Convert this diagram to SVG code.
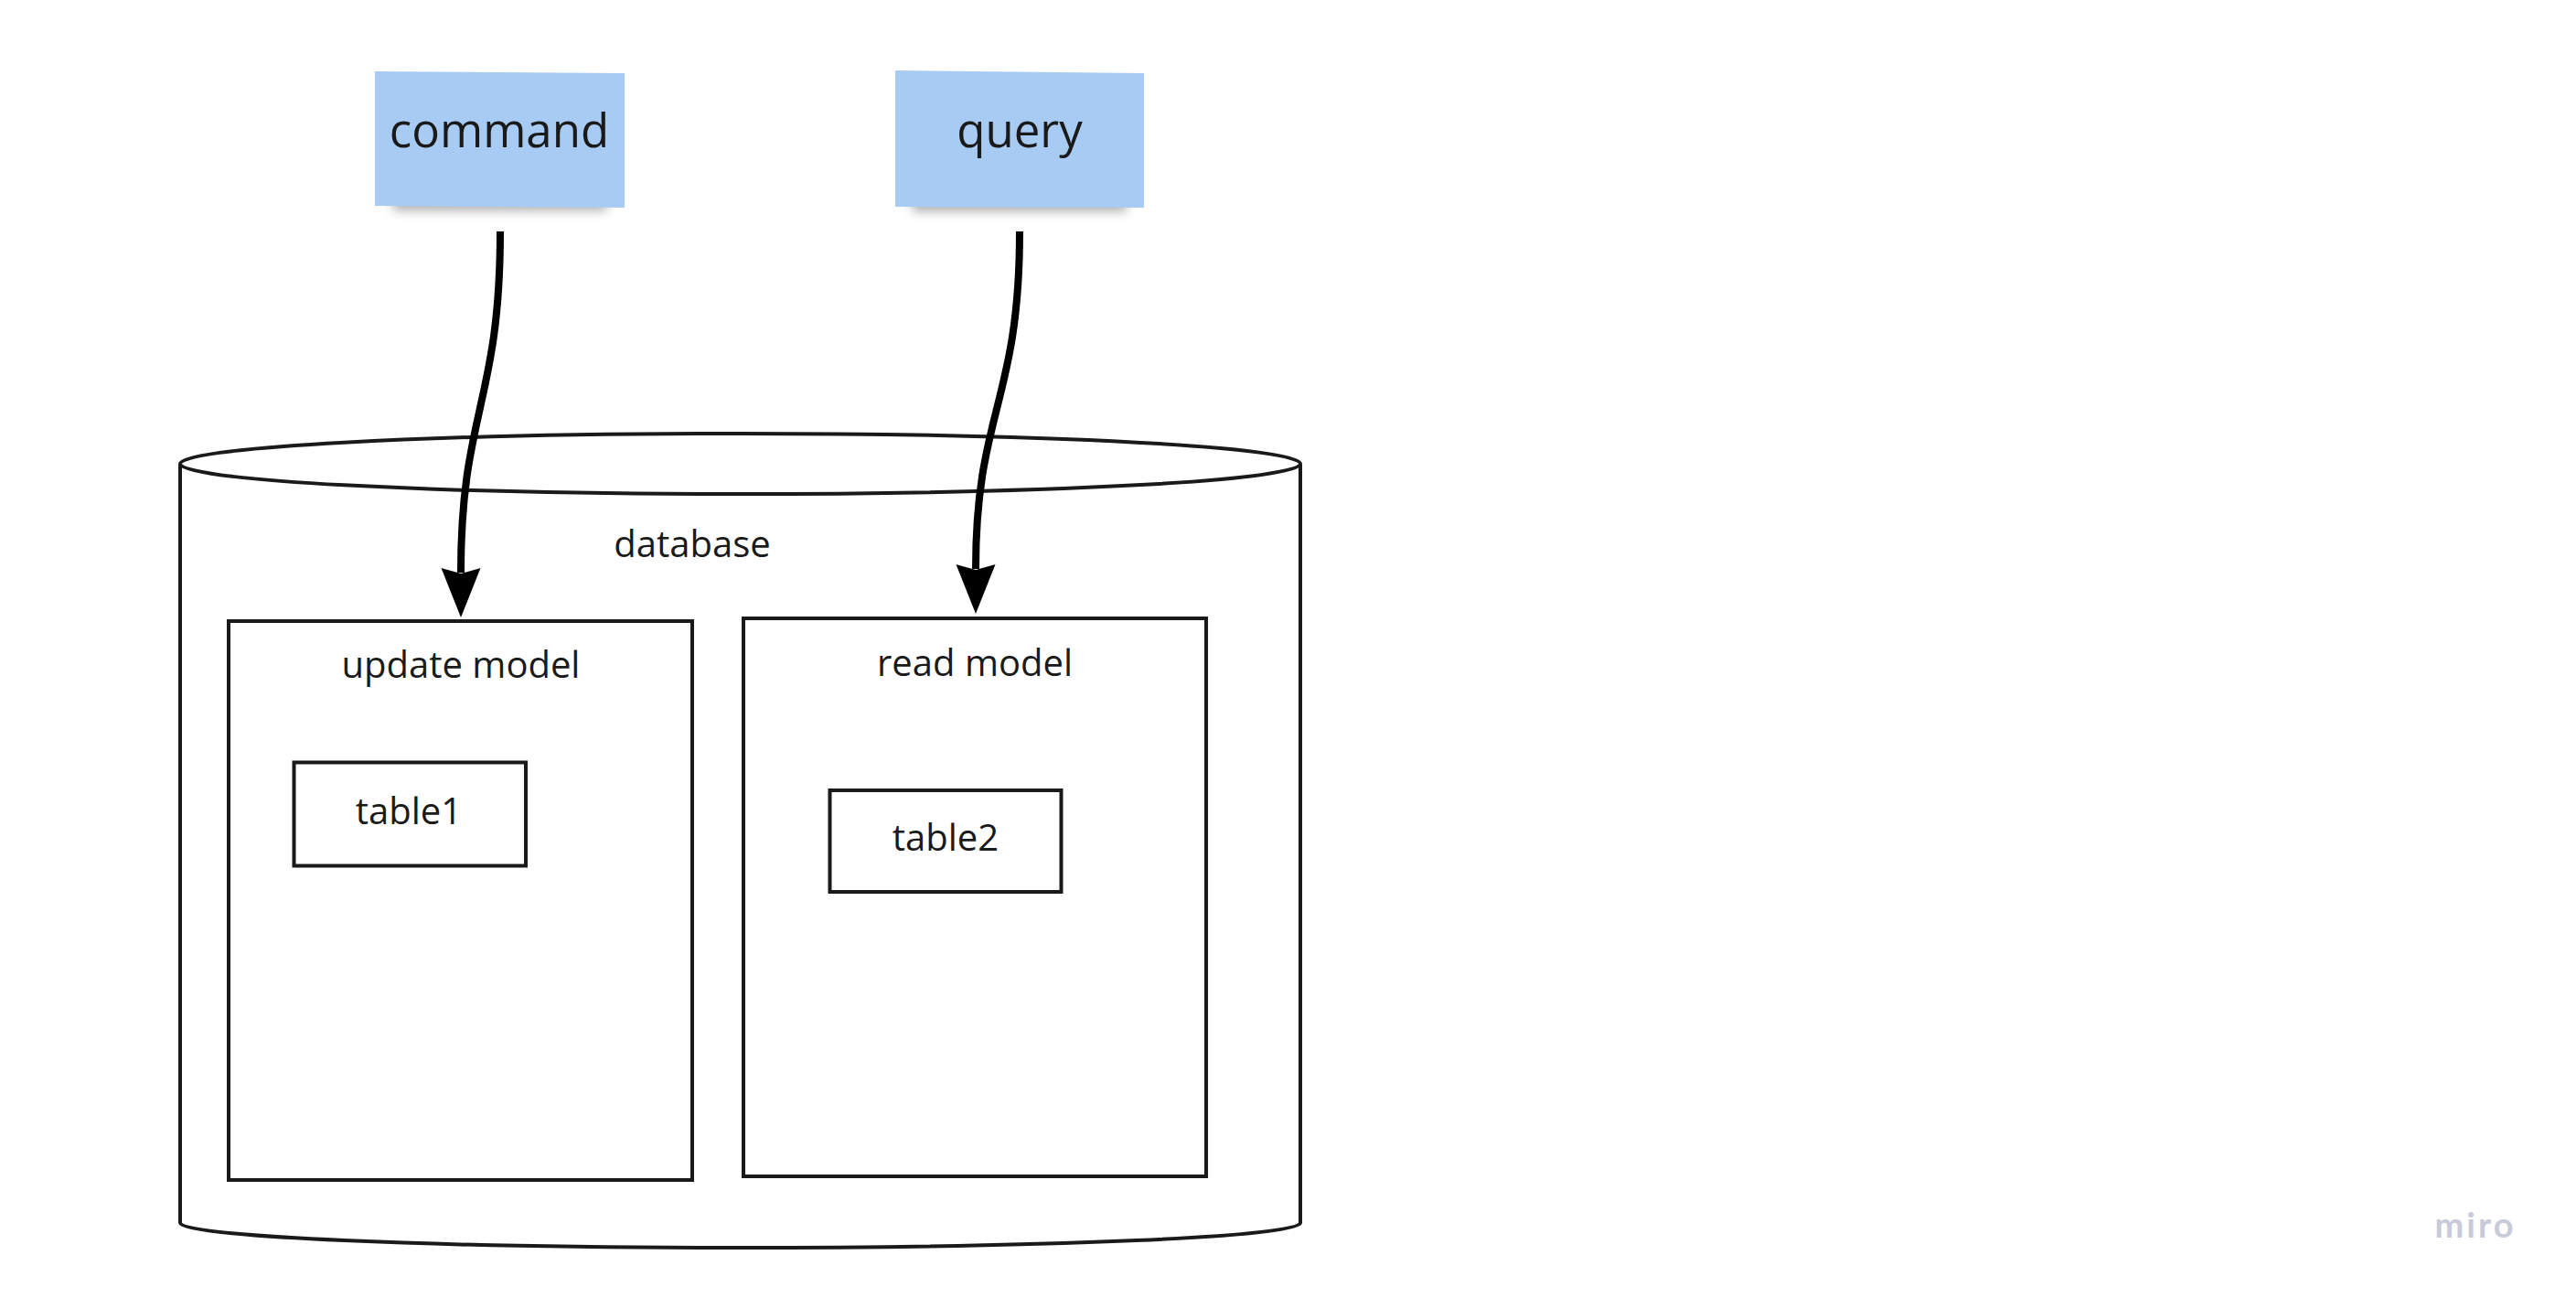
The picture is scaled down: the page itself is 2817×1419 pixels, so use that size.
<svg xmlns="http://www.w3.org/2000/svg" width="2817" height="1419" viewBox="0 0 2817 1419">
<style>
.lbl{font-family:"Open Sans","Noto Sans","Liberation Sans",sans-serif;fill:#1a1a1a;text-anchor:middle}
.big{font-size:51px}
.small{font-size:40px}
.box{fill:#ffffff;stroke:#1a1a1a;stroke-width:4}
.sticky{fill:#a7cbf3}
.conn{fill:none;stroke:#000000;stroke-width:8}
</style>
<defs>
<marker id="arrow" markerUnits="userSpaceOnUse" markerWidth="60" markerHeight="50" viewBox="-2 -25 60 50" refX="5" refY="0" orient="auto">
<path d="M0,-21.5 L54,0 L0,21.5 L6,0 Z" fill="#000000"/>
</marker>
<filter id="shadow" x="-20%" y="-100%" width="140%" height="300%">
<feGaussianBlur stdDeviation="6"/>
</filter>
</defs>
<rect width="2817" height="1419" fill="#ffffff"/>

<g id="database">
<path class="box" d="M197,507 L197,1337 A612.5,27 0 0 0 1422,1337 L1422,507"/>
<ellipse cx="809.5" cy="507" rx="612.5" ry="33" fill="#ffffff" stroke="#1a1a1a" stroke-width="4"/>
<text class="lbl small" x="757" y="609">database</text>
</g>

<g id="update-model">
<rect class="box" x="250" y="679" width="507" height="611"/>
<text class="lbl small" x="504" y="741">update model</text>
</g>

<g id="read-model">
<rect class="box" x="813" y="676" width="506" height="610"/>
<text class="lbl small" x="1066" y="739">read model</text>
</g>

<g id="table1">
<rect class="box" x="321.5" y="833.5" width="253.5" height="113"/>
<text class="lbl small" x="447" y="901">table1</text>
</g>

<g id="table2">
<rect class="box" x="907.5" y="864" width="253" height="111"/>
<text class="lbl small" x="1034" y="930">table2</text>
</g>

<g id="command">
<rect x="430" y="208" width="234" height="22" fill="#6b6b6b" opacity="0.55" filter="url(#shadow)"/>
<polygon class="sticky" points="410,78 683,80 683,227 410,225"/>
<text class="lbl big" x="546" y="161">command</text>
</g>

<g id="query">
<rect x="998" y="209" width="234" height="22" fill="#6b6b6b" opacity="0.55" filter="url(#shadow)"/>
<polygon class="sticky" points="979,77 1251,80 1251,227 979,226"/>
<text class="lbl big" x="1115" y="161">query</text>
</g>

<g id="connectors">
<path class="conn" d="M547,253 C547,440 504,450 504,626" marker-end="url(#arrow)"/>
<path class="conn" d="M1115,253 C1115,440 1067,450 1067,622" marker-end="url(#arrow)"/>
</g>

<text x="2707" y="1353" font-family="Lato,'Open Sans',sans-serif" font-size="38" font-weight="700" fill="#c9cad9" text-anchor="middle" letter-spacing="3">miro</text>
</svg>
